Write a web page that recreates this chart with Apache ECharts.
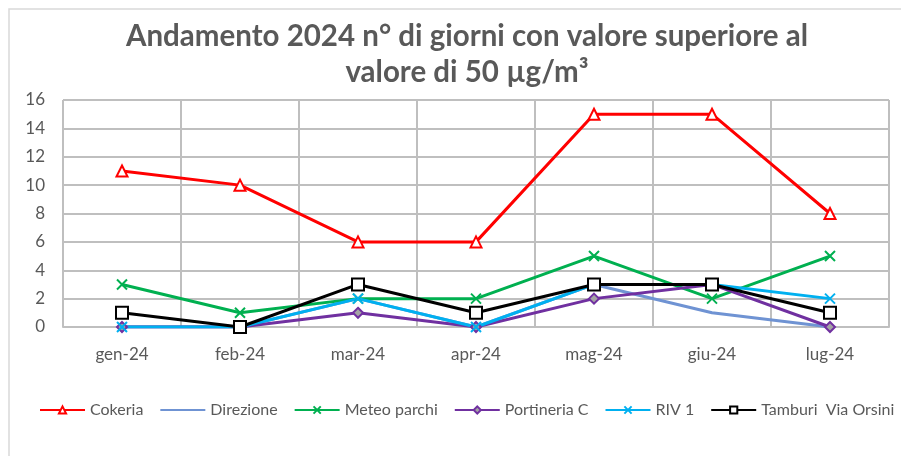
<!DOCTYPE html>
<html>
<head>
<meta charset="utf-8">
<script src="https://cdn.jsdelivr.net/npm/echarts@6/dist/echarts.min.js"></script>
<style>
  html, body { margin: 0; padding: 0; background: #fff; }
  #chart { width: 901px; height: 456px; }
</style>
</head>
<body>
<div id="chart"></div>
<script>
var months = ['gen-24', 'feb-24', 'mar-24', 'apr-24', 'mag-24', 'giu-24', 'lug-24'];
var cokeria = [11, 10, 6, 6, 15, 15, 8];
var direzione = [0, 0, 2, 0, 3, 1, 0];
var meteoParchi = [3, 1, 2, 2, 5, 2, 5];
var portineriaC = [0, 0, 1, 0, 2, 3, 0];
var riv1 = [0, 0, 2, 0, 3, 3, 2];
var tamburi = [1, 0, 3, 1, 3, 3, 1];

var crossPath = 'path://M0,0L10,10M10,0L0,10';
var font = 'Lato, "Liberation Sans", sans-serif';
var textGrey = '#595959';

function line(name, data, color, symbol, fill, size) {
    return {
        name: name,
        type: 'line',
        data: data,
        symbol: symbol,
        symbolSize: size || 10,
        lineStyle: { color: color, width: 3 },
        itemStyle: { color: fill, borderColor: color, borderWidth: 2 },
        emphasis: { disabled: true },
        animation: false
    };
}

var chart = echarts.init(document.getElementById('chart'));
var option = {
    backgroundColor: '#fff',
    textStyle: { fontFamily: font },
    title: {
        text: 'Andamento 2024 n° di giorni con valore superiore al\nvalore di 50 µg/m³',
        left: 462,
        textAlign: 'center',
        top: 13,
        textStyle: {
            fontFamily: font,
            fontSize: 29.5,
            fontWeight: 'bold',
            color: textGrey,
            lineHeight: 36
        }
    },
    graphic: [{
        type: 'rect',
        shape: { x: 9, y: 9, width: 900, height: 460 },
        style: { fill: 'none', stroke: '#d9d9d9', lineWidth: 1.5 },
        silent: true
    }],
    legend: {
        left: 34,
        top: 397,
        width: 1200,
        itemWidth: 45,
        itemHeight: 9,
        itemGap: 16,
        textStyle: { fontFamily: font, fontSize: 16, color: textGrey },
        data: [
            'Cokeria',
            { name: 'Direzione', itemStyle: { color: 'transparent', borderColor: 'transparent' } },
            'Meteo parchi', 'Portineria C', 'RIV 1', 'Tamburi  Via Orsini'
        ]
    },
    grid: { left: 63, right: 12, top: 100, bottom: 129 },
    xAxis: {
        type: 'category',
        data: months,
        boundaryGap: true,
        axisLine: { lineStyle: { color: '#bfbfbf', width: 2 } },
        axisTick: { show: false },
        axisLabel: { fontFamily: font, fontSize: 17, color: textGrey, margin: 19 },
        splitLine: { show: true, lineStyle: { color: '#bfbfbf', width: 2 } }
    },
    yAxis: {
        type: 'value',
        min: 0,
        max: 16,
        interval: 2,
        axisLine: { show: false },
        axisTick: { show: false },
        axisLabel: { fontFamily: font, fontSize: 17, color: textGrey, margin: 18 },
        splitLine: { lineStyle: { color: '#bfbfbf', width: 2 } }
    },
    series: [
        line('Cokeria', cokeria, '#ff0000', 'triangle', '#ffffff', 11),
        line('Direzione', direzione, '#6f93d3', 'none', '#6f93d3'),
        line('Meteo parchi', meteoParchi, '#00b050', crossPath, 'none', 10),
        line('Portineria C', portineriaC, '#7030a0', 'diamond', '#a5a5a5', 10),
        line('RIV 1', riv1, '#00b0f0', crossPath, 'none', 10),
        line('Tamburi  Via Orsini', tamburi, '#000000', 'rect', '#ffffff', 12)
    ]
};
chart.setOption(option);
</script>
</body>
</html>
